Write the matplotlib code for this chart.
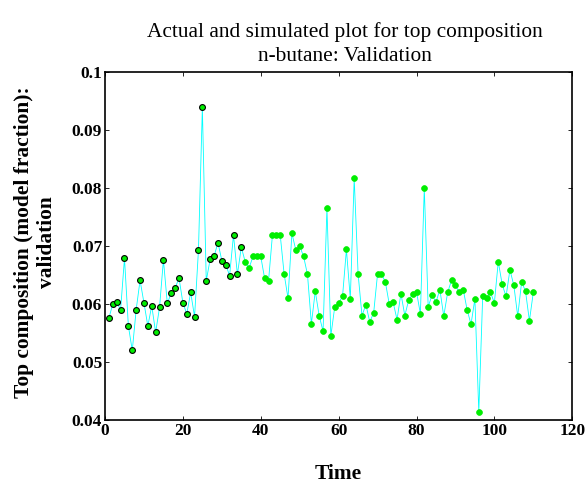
import matplotlib
matplotlib.use("Agg")
import matplotlib.pyplot as plt
import numpy as np

plt.rcParams['font.family'] = ['Liberation Serif', 'DejaVu Serif']

# validation run, samples 1..110
time = np.arange(1, 111)
top_comp = [
    0.0576, 0.0600, 0.0603, 0.0590, 0.0679, 0.0562, 0.0520, 0.0590, 0.0641, 0.0602,
    0.0562, 0.0597, 0.0551, 0.0594, 0.0676, 0.0601, 0.0619, 0.0627, 0.0645, 0.0602,
    0.0583, 0.0620, 0.0578, 0.0693, 0.0939, 0.0640, 0.0677, 0.0682, 0.0706, 0.0675,
    0.0668, 0.0649, 0.0719, 0.0651, 0.0698, 0.0673, 0.0662, 0.0682, 0.0682, 0.0682,
    0.0644, 0.0640, 0.0719, 0.0719, 0.0719, 0.0652, 0.0610, 0.0722, 0.0693, 0.0700,
    0.0682, 0.0651, 0.0566, 0.0622, 0.0580, 0.0553, 0.0766, 0.0545, 0.0595, 0.0602,
    0.0613, 0.0694, 0.0609, 0.0817, 0.0652, 0.0580, 0.0599, 0.0569, 0.0585, 0.0652,
    0.0652, 0.0638, 0.0600, 0.0603, 0.0573, 0.0618, 0.0580, 0.0607, 0.0617, 0.0621,
    0.0583, 0.0800, 0.0595, 0.0616, 0.0603, 0.0625, 0.0579, 0.0620, 0.0641, 0.0632,
    0.0620, 0.0625, 0.0590, 0.0565, 0.0609, 0.0414, 0.0613, 0.0611, 0.0620, 0.0602,
    0.0673, 0.0634, 0.0613, 0.0659, 0.0632, 0.0579, 0.0638, 0.0622, 0.0571, 0.0620,
]
n_edged = 35  # first points drawn with black outline

fig = plt.figure(figsize=(5.88, 4.84), dpi=100)
ax = fig.add_axes([0.1786, 0.1322, 0.7946, 0.7190])

ax.plot(time, top_comp, color='cyan', lw=0.6, zorder=1)
ax.plot(time[:n_edged], top_comp[:n_edged], ls='none', marker='o', ms=4.2,
        mfc='#00ee00', mec='black', mew=0.8, zorder=3)
ax.plot(time[n_edged:], top_comp[n_edged:], ls='none', marker='o', ms=4.2,
        mfc='#00ee00', mec='#00ee00', mew=0.5, zorder=3)

ax.set_xlim(0, 120)
ax.set_ylim(0.04, 0.1)
ax.set_xticks(range(0, 121, 20))
ax.set_yticks([0.04, 0.05, 0.06, 0.07, 0.08, 0.09, 0.1])
ax.set_yticklabels(['0.04', '0.05', '0.06', '0.07', '0.08', '0.09', '0.1'])
ax.tick_params(direction='in', length=3, width=0.6, top=True, right=True,
               labelsize=12.5, pad=2)
for lab in ax.get_xticklabels() + ax.get_yticklabels():
    lab.set_fontweight('bold')
for sp in ax.spines.values():
    sp.set_linewidth(1.2)

ax.set_title('Actual and simulated plot for top composition\nn-butane: Validation',
             fontsize=15.4, pad=8, linespacing=1.32, x=0.513)
ax.set_xlabel('Time', fontsize=15.4, fontweight='bold', labelpad=18.5)
ax.set_ylabel('Top composition (model fraction):\nvalidation', fontsize=15.4,
              fontweight='bold', linespacing=1.2)
ax.yaxis.set_label_coords(-0.103, 0.51)

fig.savefig('out.png', dpi=100)
